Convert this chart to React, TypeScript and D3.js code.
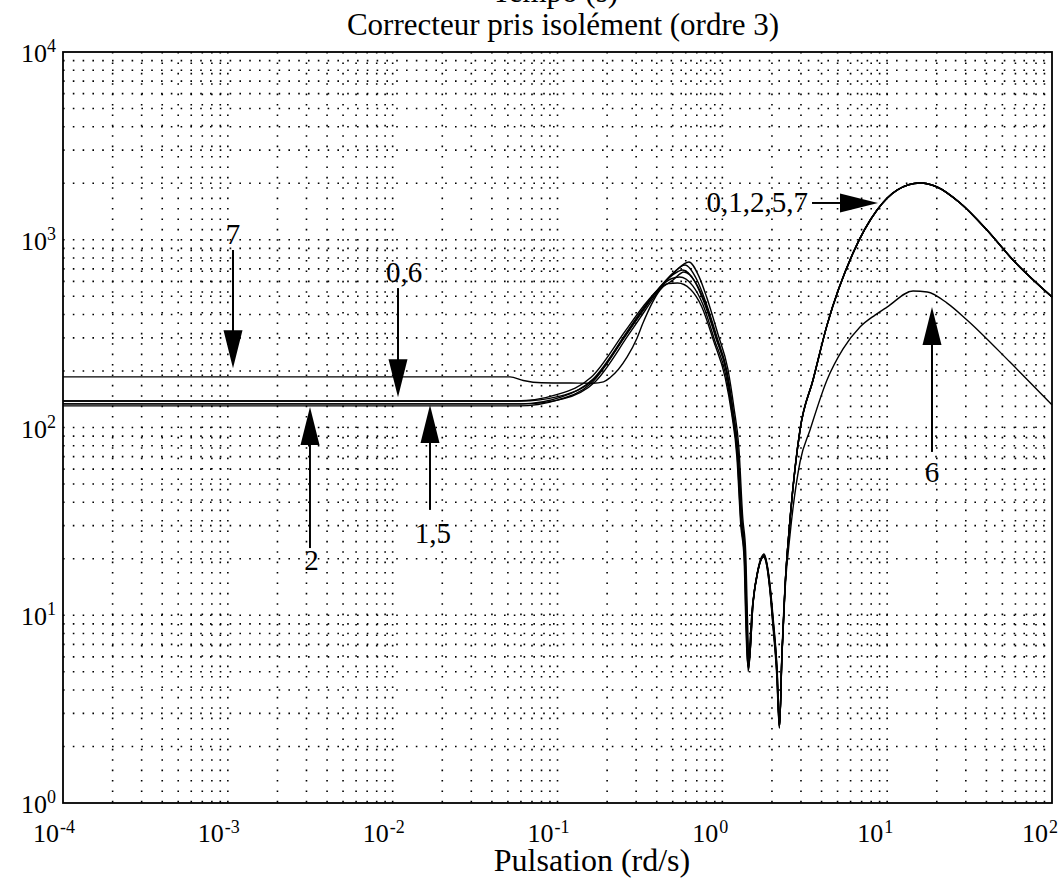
import React from 'react';
import * as d3 from 'd3';

const W = 1064;
const H = 881;

// Axis domains and tick decades
const X_DECADES = [-4, -3, -2, -1, 0, 1, 2];
const Y_DECADES = [0, 1, 2, 3, 4];
const TITLE_TOP = 'Tempo (s)';
const TITLE = 'Correcteur pris isolément (ordre 3)';
const X_TITLE = 'Pulsation (rd/s)';

// Series: [pulsation (rd/s), gain]
const curve0: [number, number][] = [
  [0.0001, 138.4], [0.0593, 138.4], [0.1035, 147], [0.164, 179], [0.264, 319], [0.33, 423], [0.419, 560],
  [0.502, 665], [0.594, 734], [0.702, 610], [0.785, 478], [0.928, 303], [1.068, 198], [1.161, 124],
  [1.245, 75.9], [1.316, 32.2], [1.373, 21.5], [1.411, 9.43], [1.442, 5.11], [1.535, 11.6], [1.646, 17.4],
  [1.79, 20.9], [1.947, 14.1], [2.03, 9.43], [2.146, 5.11], [2.223, 2.54], [2.302, 6.29], [2.4, 14.1],
  [2.574, 32.2], [2.96, 97], [3.549, 179], [4.316, 351], [6.21, 850], [8.68, 1440], [11.5, 1841],
  [15.8, 2006], [20.1, 1910], [27.7, 1570], [40.3, 1127], [58, 780], [100, 496],
];
const curve1: [number, number][] = [
  [0.0001, 133.6], [0.062, 133.6], [0.108, 142], [0.17, 176], [0.27, 312], [0.34, 420], [0.43, 565],
  [0.52, 680], [0.627, 761], [0.72, 640], [0.8, 500], [0.94, 315], [1.08, 205], [1.175, 128], [1.26, 78],
  [1.33, 33], [1.385, 22], [1.42, 9.8], [1.45, 5.6], [1.54, 12], [1.65, 17.8], [1.79, 21.2], [1.95, 14.3],
  [2.035, 9.6], [2.15, 5.2], [2.223, 2.6], [2.3, 6.4], [2.4, 14.3], [2.574, 32.6], [2.96, 98], [3.55, 180],
  [4.32, 352], [6.2, 852], [8.7, 1445], [11.5, 1845], [15.8, 2010], [20.1, 1912], [27.7, 1572],
  [40.3, 1128], [58, 781], [100, 497],
];
const curve2: [number, number][] = [
  [0.0001, 130.3], [0.058, 130.3], [0.1, 140], [0.16, 172], [0.26, 310], [0.33, 418], [0.42, 560],
  [0.5, 650], [0.575, 690], [0.68, 600], [0.77, 470], [0.915, 300], [1.06, 196], [1.15, 122], [1.235, 74],
  [1.305, 31.5], [1.365, 21], [1.4, 9.2], [1.435, 5.0], [1.53, 11.4], [1.64, 17.2], [1.785, 20.7],
  [1.945, 14], [2.025, 9.3], [2.14, 5.0], [2.22, 2.52], [2.3, 6.2], [2.4, 14], [2.574, 32], [2.96, 96.5],
  [3.55, 178.5], [4.316, 350], [6.21, 848], [8.68, 1438], [11.5, 1838], [15.8, 2004], [20.1, 1908],
  [27.7, 1568], [40.3, 1125], [58, 779], [100, 495],
];
const curve5: [number, number][] = [
  [0.0001, 133.6], [0.06, 133.6], [0.105, 145], [0.165, 182], [0.265, 325], [0.33, 430], [0.42, 560],
  [0.49, 620], [0.55, 633], [0.66, 570], [0.76, 455], [0.9, 290], [1.05, 190], [1.145, 120], [1.23, 72],
  [1.3, 30.5], [1.36, 20.5], [1.395, 9], [1.43, 5.3], [1.525, 11.2], [1.64, 17], [1.78, 20.5], [1.94, 13.9],
  [2.025, 9.2], [2.14, 5.0], [2.22, 2.55], [2.3, 6.3], [2.4, 14.1], [2.574, 32.1], [2.96, 96.8], [3.55, 179],
  [4.316, 351], [6.21, 849], [8.68, 1439], [11.5, 1840], [15.8, 2005], [20.1, 1909], [27.7, 1569],
  [40.3, 1126], [58, 780], [100, 496],
];
const curve6: [number, number][] = [
  [0.0001, 138.4], [0.056, 138.4], [0.1, 150], [0.16, 185], [0.26, 330], [0.33, 440], [0.41, 545],
  [0.47, 585], [0.535, 588], [0.64, 545], [0.75, 440], [0.89, 285], [1.04, 185], [1.14, 118], [1.225, 70],
  [1.295, 30], [1.355, 20], [1.39, 8.8], [1.425, 5.4], [1.52, 11], [1.635, 16.9], [1.775, 20.4], [1.94, 13.8],
  [2.02, 9.1], [2.135, 4.9], [2.218, 2.5], [2.3, 6.1], [2.4, 13.5], [2.574, 26.8], [2.96, 65.5], [3.404, 97],
  [4.316, 179], [5.4, 262], [6.84, 343], [8.44, 397], [9.98, 438], [14.35, 533], [17.5, 527], [23.1, 460],
  [30.5, 374], [55.6, 223], [100, 132],
];
const curve7: [number, number][] = [
  [0.0001, 186], [0.0515, 186], [0.062, 178], [0.08, 173], [0.12, 172.5], [0.164, 172], [0.19, 175],
  [0.208, 184], [0.264, 237], [0.304, 300], [0.33, 360], [0.419, 540], [0.502, 610], [0.585, 673],
  [0.69, 590], [0.78, 470], [0.92, 298], [1.065, 196], [1.158, 123], [1.24, 75], [1.31, 32], [1.37, 21.3],
  [1.408, 9.4], [1.44, 5.2], [1.535, 11.5], [1.645, 17.3], [1.79, 20.8], [1.947, 14.1], [2.03, 9.4],
  [2.146, 5.1], [2.223, 2.54], [2.302, 6.29], [2.4, 14.1], [2.574, 32.2], [2.96, 97], [3.549, 179],
  [4.316, 351], [6.21, 850], [8.68, 1440], [11.5, 1841], [15.8, 2006], [20.1, 1910], [27.7, 1570],
  [40.3, 1127], [58, 780], [100, 496],
];
const SERIES = [curve0, curve1, curve2, curve5, curve6, curve7];

// Annotations: arrow tail -> tip (data coords), label position (data coords)
type Ann = { label: string; tail: [number, number]; tip: [number, number]; at: [number, number]; anchor: string };
const ANNOTATIONS: Ann[] = [
  { label: '7', tail: [0.001075, 882], tip: [0.001075, 207], at: [0.001075, 949], anchor: 'middle' },
  { label: '0,6', tail: [0.01077, 553], tip: [0.01077, 145], at: [0.01172, 596], anchor: 'middle' },
  { label: '2', tail: [0.00315, 22.8], tip: [0.00315, 128.6], at: [0.00322, 17.4], anchor: 'middle' },
  { label: '1,5', tail: [0.01685, 36.4], tip: [0.01685, 131.8], at: [0.01753, 24.3], anchor: 'middle' },
  { label: '6', tail: [18.7, 74.1], tip: [18.7, 438], at: [18.7, 51.3], anchor: 'middle' },
  { label: '0,1,2,5,7', tail: [3.5, 1570], tip: [8.8, 1570], at: [3.31, 1405], anchor: 'end' },
];

const LEFT = 63, RIGHT = 1052, TOP = 52, BOTTOM = 803;

export default function App() {
  const x = d3.scaleLog().domain([1e-4, 1e2]).range([LEFT, RIGHT]);
  const y = d3.scaleLog().domain([1, 1e4]).range([BOTTOM, TOP]);
  const line = d3.line<[number, number]>().x(d => x(d[0])).y(d => y(d[1])).curve(d3.curveMonotoneX);

  const xGrid: number[] = [];
  for (let d = -4; d < 2; d++) for (let k = 1; k <= 9; k++) if (!(d === -4 && k === 1)) xGrid.push(k * Math.pow(10, d));
  const yGrid: number[] = [];
  for (let d = 0; d < 4; d++) for (let k = 1; k <= 9; k++) if (!(d === 0 && k === 1)) yGrid.push(k * Math.pow(10, d));

  const font = '"Liberation Serif", "Times New Roman", serif';

  return (
    <svg width={W} height={H} style={{ position: 'absolute', left: 0, top: 0, background: '#fff' }} fontFamily={font}>
      <rect x={0} y={0} width={W} height={H} fill="#fff" />
      {/* grid */}
      <g stroke="#000" strokeWidth={1.6} fill="none">
        {xGrid.map((v, i) => (
          <line key={'gx' + i} x1={x(v)} x2={x(v)} y1={TOP} y2={BOTTOM} strokeDasharray="1.6 8.8" />
        ))}
        {yGrid.map((v, i) => (
          <line key={'gy' + i} x1={LEFT} x2={RIGHT} y1={y(v)} y2={y(v)} strokeDasharray="1.6 8.2" />
        ))}
      </g>
      {/* frame */}
      <rect x={LEFT} y={TOP} width={RIGHT - LEFT} height={BOTTOM - TOP} fill="none" stroke="#000" strokeWidth={1.8} />
      {/* curves */}
      <g fill="none" stroke="#000" strokeWidth={1.4}>
        {SERIES.map((s, i) => <path key={'c' + i} d={line(s) || ''} />)}
      </g>
      {/* annotations */}
      {ANNOTATIONS.map((a, i) => {
        const tx = x(a.tip[0]), ty = y(a.tip[1]);
        const sx = x(a.tail[0]), sy = y(a.tail[1]);
        const len = Math.hypot(tx - sx, ty - sy);
        const ux = (tx - sx) / len, uy = (ty - sy) / len;
        const hl = 38, hw = 9.5;
        const bx = tx - ux * hl, by = ty - uy * hl;
        const pts = [[tx, ty], [bx - uy * hw, by + ux * hw], [bx + uy * hw, by - ux * hw]];
        return (
          <g key={'a' + i}>
            <line x1={sx} y1={sy} x2={bx + ux * 2} y2={by + uy * 2} stroke="#000" strokeWidth={2} />
            <polygon points={pts.map(p => p.join(',')).join(' ')} fill="#000" />
            <text x={x(a.at[0])} y={y(a.at[1])} textAnchor={a.anchor} fontSize={29} fill="#000">{a.label}</text>
          </g>
        );
      })}
      {/* y tick labels */}
      {Y_DECADES.map(d => (
        <text key={'yl' + d} x={56} y={y(Math.pow(10, d)) + 10} textAnchor="end" fontSize={26} fill="#000">
          10<tspan dy={-10} fontSize={18}>{String(d)}</tspan>
        </text>
      ))}
      {/* x tick labels */}
      {X_DECADES.map(d => (
        <g key={'xl' + d}>
          <text x={x(Math.pow(10, d)) - 4} y={842} textAnchor="end" fontSize={26} fill="#000">10</text>
          <text x={x(Math.pow(10, d)) - 3} y={833} textAnchor="start" fontSize={18} fill="#000">{String(d)}</text>
        </g>
      ))}
      {/* titles */}
      <text x={555} y={2} textAnchor="middle" fontSize={31} fill="#000">{TITLE_TOP}</text>
      <text x={563} y={35} textAnchor="middle" fontSize={31} fill="#000">{TITLE}</text>
      <text x={592} y={871} textAnchor="middle" fontSize={32} fill="#000">{X_TITLE}</text>
    </svg>
  );
}
